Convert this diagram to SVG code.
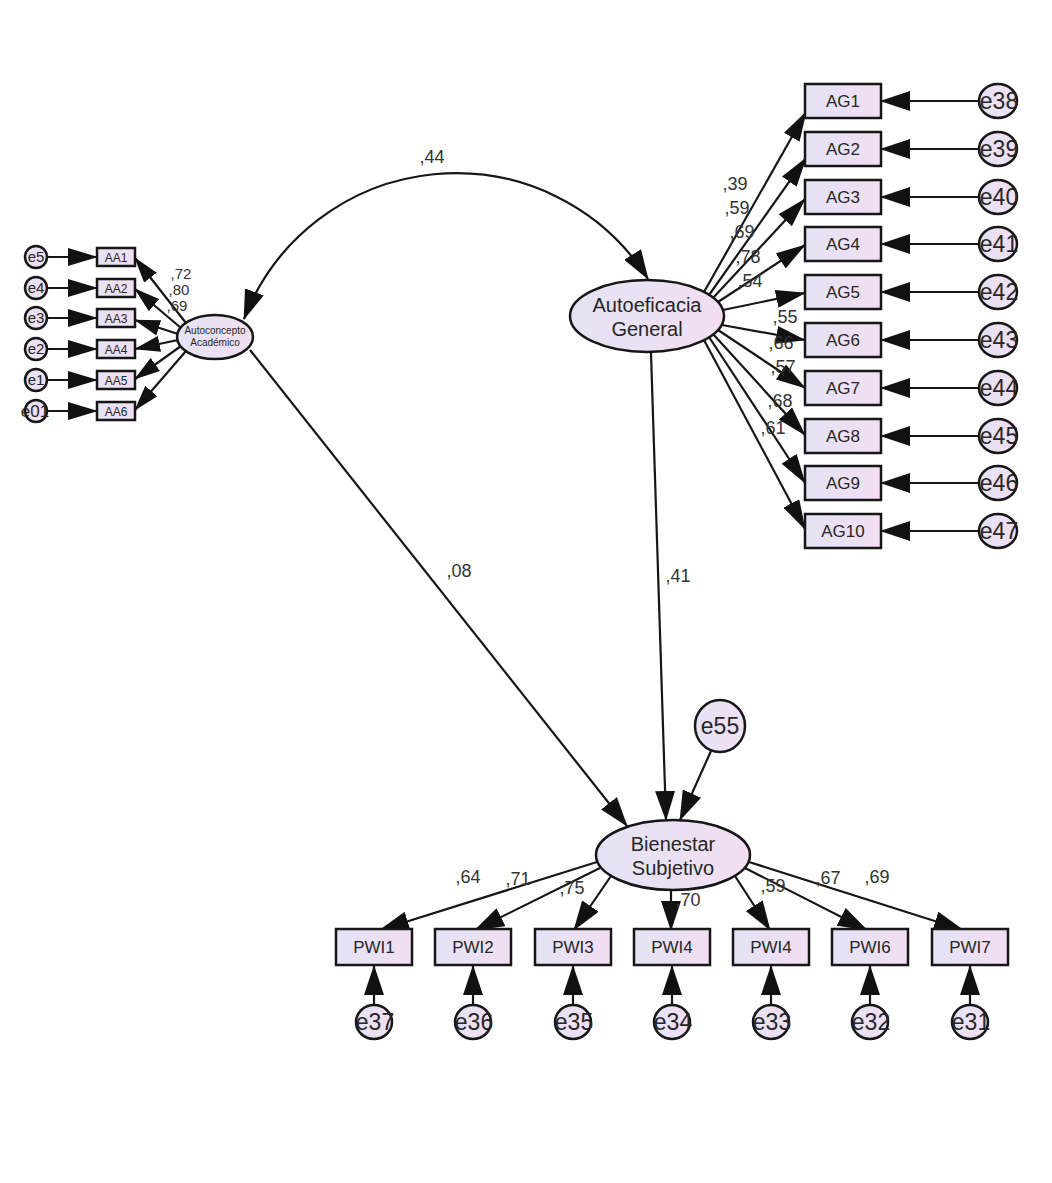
<svg xmlns="http://www.w3.org/2000/svg" width="1052" height="1183" viewBox="0 0 1052 1183">
<defs>
<linearGradient id="g" x1="0" y1="0" x2="1" y2="0">
<stop offset="0" stop-color="#e4e3f5"/>
<stop offset="1" stop-color="#f2def2"/>
</linearGradient>
<marker id="ah" markerUnits="userSpaceOnUse" markerWidth="30" markerHeight="20" viewBox="0 0 30 20" refX="29" refY="10" orient="auto-start-reverse">
<path d="M0,0 L30,10 L0,20 z" fill="#111"/>
</marker>
<marker id="am" markerUnits="userSpaceOnUse" markerWidth="30" markerHeight="18" viewBox="0 0 30 18" refX="29" refY="9" orient="auto">
<path d="M0,0 L30,9 L0,18 z" fill="#111"/>
</marker>
<marker id="as" markerUnits="userSpaceOnUse" markerWidth="26" markerHeight="16" viewBox="0 0 26 16" refX="25" refY="8" orient="auto">
<path d="M0,0 L26,8 L0,16 z" fill="#111"/>
</marker>
<style>
.n{fill:url(#g);stroke:#161616;stroke-width:2.5}
.t{font-family:"Liberation Sans",Arial,sans-serif;fill:#262626;text-anchor:middle}
.c{stroke:#161616;stroke-width:2.2;fill:none}
.lb{font-family:"Liberation Sans",Arial,sans-serif;fill:#333;font-size:18px;text-anchor:middle}
.ls{font-family:"Liberation Sans",Arial,sans-serif;fill:#333;font-size:15px;text-anchor:middle}
</style>
</defs>
<rect width="1052" height="1183" fill="#ffffff"/>

<g id="connectors">
<path class="c" d="M244,319 A227,227 0 0 1 648,279" marker-start="url(#ah)" marker-end="url(#ah)"/>
<line class="c" x1="250" y1="350" x2="627" y2="826" marker-end="url(#ah)"/>
<line class="c" x1="651" y1="353" x2="666" y2="820" marker-end="url(#ah)"/>
<line class="c" x1="711" y1="751" x2="680" y2="820" marker-end="url(#ah)"/>
<line class="c" x1="704" y1="292" x2="806" y2="112" marker-end="url(#am)"/>
<line class="c" x1="709" y1="295" x2="806" y2="158" marker-end="url(#am)"/>
<line class="c" x1="713" y1="298" x2="805" y2="199" marker-end="url(#am)"/>
<line class="c" x1="718" y1="302" x2="805" y2="245" marker-end="url(#am)"/>
<line class="c" x1="723" y1="310" x2="805" y2="293" marker-end="url(#am)"/>
<line class="c" x1="722" y1="325" x2="805" y2="340" marker-end="url(#am)"/>
<line class="c" x1="718" y1="330" x2="805" y2="388" marker-end="url(#am)"/>
<line class="c" x1="713" y1="334" x2="805" y2="435" marker-end="url(#am)"/>
<line class="c" x1="709" y1="337" x2="805" y2="483" marker-end="url(#am)"/>
<line class="c" x1="704" y1="340" x2="805" y2="529" marker-end="url(#am)"/>
<line class="c" x1="979" y1="101" x2="881" y2="101" marker-end="url(#ah)"/>
<line class="c" x1="979" y1="149" x2="881" y2="149" marker-end="url(#ah)"/>
<line class="c" x1="979" y1="197" x2="881" y2="197" marker-end="url(#ah)"/>
<line class="c" x1="979" y1="244" x2="881" y2="244" marker-end="url(#ah)"/>
<line class="c" x1="979" y1="292" x2="881" y2="292" marker-end="url(#ah)"/>
<line class="c" x1="979" y1="340" x2="881" y2="340" marker-end="url(#ah)"/>
<line class="c" x1="979" y1="388" x2="881" y2="388" marker-end="url(#ah)"/>
<line class="c" x1="979" y1="436" x2="881" y2="436" marker-end="url(#ah)"/>
<line class="c" x1="979" y1="483" x2="881" y2="483" marker-end="url(#ah)"/>
<line class="c" x1="979" y1="531" x2="881" y2="531" marker-end="url(#ah)"/>
<line class="c" x1="186" y1="323" x2="135" y2="258" marker-end="url(#as)"/>
<line class="c" x1="181" y1="328" x2="135" y2="289" marker-end="url(#as)"/>
<line class="c" x1="178" y1="334" x2="135" y2="320" marker-end="url(#as)"/>
<line class="c" x1="178" y1="340" x2="135" y2="349" marker-end="url(#as)"/>
<line class="c" x1="181" y1="346" x2="135" y2="379" marker-end="url(#as)"/>
<line class="c" x1="186" y1="351" x2="135" y2="410" marker-end="url(#as)"/>
<line class="c" x1="47" y1="257" x2="97" y2="257" marker-end="url(#am)"/>
<line class="c" x1="47" y1="288" x2="97" y2="288" marker-end="url(#am)"/>
<line class="c" x1="47" y1="318" x2="97" y2="318" marker-end="url(#am)"/>
<line class="c" x1="47" y1="349" x2="97" y2="349" marker-end="url(#am)"/>
<line class="c" x1="47" y1="380" x2="97" y2="380" marker-end="url(#am)"/>
<line class="c" x1="47" y1="411" x2="97" y2="411" marker-end="url(#am)"/>
<line class="c" x1="597" y1="862" x2="380" y2="930" marker-end="url(#ah)"/>
<line class="c" x1="600" y1="868" x2="475" y2="930" marker-end="url(#ah)"/>
<line class="c" x1="611" y1="876" x2="574" y2="930" marker-end="url(#ah)"/>
<line class="c" x1="671" y1="890" x2="671" y2="930" marker-end="url(#ah)"/>
<line class="c" x1="735" y1="876" x2="770" y2="930" marker-end="url(#ah)"/>
<line class="c" x1="745" y1="868" x2="867" y2="930" marker-end="url(#ah)"/>
<line class="c" x1="749" y1="862" x2="963" y2="930" marker-end="url(#ah)"/>
<line class="c" x1="374" y1="1005" x2="374" y2="966" marker-end="url(#ah)"/>
<line class="c" x1="473" y1="1005" x2="473" y2="966" marker-end="url(#ah)"/>
<line class="c" x1="573" y1="1005" x2="573" y2="966" marker-end="url(#ah)"/>
<line class="c" x1="672" y1="1005" x2="672" y2="966" marker-end="url(#ah)"/>
<line class="c" x1="771" y1="1005" x2="771" y2="966" marker-end="url(#ah)"/>
<line class="c" x1="870" y1="1005" x2="870" y2="966" marker-end="url(#ah)"/>
<line class="c" x1="970" y1="1005" x2="970" y2="966" marker-end="url(#ah)"/>
</g>

<g id="labels">
<text class="lb" x="432" y="163">,44</text>
<text class="lb" x="459" y="577">,08</text>
<text class="lb" x="678" y="582">,41</text>
<text class="lb" x="735" y="190">,39</text>
<text class="lb" x="737" y="214">,59</text>
<text class="lb" x="742" y="238">,69</text>
<text class="lb" x="748" y="263">,78</text>
<text class="lb" x="750" y="287">,54</text>
<text class="lb" x="785" y="323">,55</text>
<text class="lb" x="781" y="349">,66</text>
<text class="lb" x="783" y="373">,57</text>
<text class="lb" x="780" y="407">,68</text>
<text class="lb" x="773" y="434">,61</text>
<text class="ls" x="181" y="279">,72</text>
<text class="ls" x="179" y="295">,80</text>
<text class="ls" x="177" y="311">,69</text>
<text class="lb" x="468" y="883">,64</text>
<text class="lb" x="518" y="885">,71</text>
<text class="lb" x="572" y="894">,75</text>
<text class="lb" x="688" y="906">,70</text>
<text class="lb" x="773" y="892">,59</text>
<text class="lb" x="828" y="884">,67</text>
<text class="lb" x="877" y="883">,69</text>
</g>

<g id="autoconcepto">
<ellipse class="n" cx="215" cy="337" rx="38" ry="22"/>
<text class="t" x="215" y="334" font-size="10">Autoconcepto</text>
<text class="t" x="215" y="346" font-size="10">Académico</text>
</g>
<g id="autoeficacia">
<ellipse class="n" cx="647" cy="316" rx="77" ry="36"/>
<text class="t" x="647" y="312" font-size="20">Autoeficacia</text>
<text class="t" x="647" y="336" font-size="20">General</text>
</g>
<g id="bienestar">
<ellipse class="n" cx="673" cy="855" rx="77" ry="35"/>
<text class="t" x="673" y="851" font-size="20">Bienestar</text>
<text class="t" x="673" y="875" font-size="20">Subjetivo</text>
</g>
<g id="e55">
<ellipse class="n" cx="720" cy="726" rx="25" ry="26"/>
<text class="t" x="720" y="734" font-size="23">e55</text>
</g>

<g id="AA1"><rect class="n" x="97" y="248" width="38" height="18"/><text class="t" x="116" y="262" font-size="12">AA1</text></g>
<g id="AA2"><rect class="n" x="97" y="279" width="38" height="18"/><text class="t" x="116" y="293" font-size="12">AA2</text></g>
<g id="AA3"><rect class="n" x="97" y="309" width="38" height="18"/><text class="t" x="116" y="323" font-size="12">AA3</text></g>
<g id="AA4"><rect class="n" x="97" y="340" width="38" height="18"/><text class="t" x="116" y="354" font-size="12">AA4</text></g>
<g id="AA5"><rect class="n" x="97" y="371" width="38" height="18"/><text class="t" x="116" y="385" font-size="12">AA5</text></g>
<g id="AA6"><rect class="n" x="97" y="402" width="38" height="18"/><text class="t" x="116" y="416" font-size="12">AA6</text></g>

<g id="e5"><circle class="n" cx="36" cy="257" r="11"/><text class="t" x="36" y="262" font-size="15">e5</text></g>
<g id="e4"><circle class="n" cx="36" cy="288" r="11"/><text class="t" x="36" y="293" font-size="15">e4</text></g>
<g id="e3"><circle class="n" cx="36" cy="318" r="11"/><text class="t" x="36" y="323" font-size="15">e3</text></g>
<g id="e2"><circle class="n" cx="36" cy="349" r="11"/><text class="t" x="36" y="354" font-size="15">e2</text></g>
<g id="e1"><circle class="n" cx="36" cy="380" r="11"/><text class="t" x="36" y="385" font-size="15">e1</text></g>
<g id="e01"><circle class="n" cx="36" cy="411" r="11"/><text class="t" x="35" y="417" font-size="17">e01</text></g>

<g id="AG1"><rect class="n" x="805" y="84" width="76" height="34"/><text class="t" x="843" y="107" font-size="17">AG1</text></g>
<g id="AG2"><rect class="n" x="805" y="132" width="76" height="34"/><text class="t" x="843" y="155" font-size="17">AG2</text></g>
<g id="AG3"><rect class="n" x="805" y="180" width="76" height="34"/><text class="t" x="843" y="203" font-size="17">AG3</text></g>
<g id="AG4"><rect class="n" x="805" y="227" width="76" height="34"/><text class="t" x="843" y="250" font-size="17">AG4</text></g>
<g id="AG5"><rect class="n" x="805" y="275" width="76" height="34"/><text class="t" x="843" y="298" font-size="17">AG5</text></g>
<g id="AG6"><rect class="n" x="805" y="323" width="76" height="34"/><text class="t" x="843" y="346" font-size="17">AG6</text></g>
<g id="AG7"><rect class="n" x="805" y="371" width="76" height="34"/><text class="t" x="843" y="394" font-size="17">AG7</text></g>
<g id="AG8"><rect class="n" x="805" y="419" width="76" height="34"/><text class="t" x="843" y="442" font-size="17">AG8</text></g>
<g id="AG9"><rect class="n" x="805" y="466" width="76" height="34"/><text class="t" x="843" y="489" font-size="17">AG9</text></g>
<g id="AG10"><rect class="n" x="805" y="514" width="76" height="34"/><text class="t" x="843" y="537" font-size="17">AG10</text></g>

<g id="e38"><ellipse class="n" cx="998" cy="101" rx="19" ry="17"/><text class="t" x="999" y="109" font-size="23">e38</text></g>
<g id="e39"><ellipse class="n" cx="998" cy="149" rx="19" ry="17"/><text class="t" x="999" y="157" font-size="23">e39</text></g>
<g id="e40"><ellipse class="n" cx="998" cy="197" rx="19" ry="17"/><text class="t" x="999" y="205" font-size="23">e40</text></g>
<g id="e41"><ellipse class="n" cx="998" cy="244" rx="19" ry="17"/><text class="t" x="999" y="252" font-size="23">e41</text></g>
<g id="e42"><ellipse class="n" cx="998" cy="292" rx="19" ry="17"/><text class="t" x="999" y="300" font-size="23">e42</text></g>
<g id="e43"><ellipse class="n" cx="998" cy="340" rx="19" ry="17"/><text class="t" x="999" y="348" font-size="23">e43</text></g>
<g id="e44"><ellipse class="n" cx="998" cy="388" rx="19" ry="17"/><text class="t" x="999" y="396" font-size="23">e44</text></g>
<g id="e45"><ellipse class="n" cx="998" cy="436" rx="19" ry="17"/><text class="t" x="999" y="444" font-size="23">e45</text></g>
<g id="e46"><ellipse class="n" cx="998" cy="483" rx="19" ry="17"/><text class="t" x="999" y="491" font-size="23">e46</text></g>
<g id="e47"><ellipse class="n" cx="998" cy="531" rx="19" ry="17"/><text class="t" x="999" y="539" font-size="23">e47</text></g>

<g id="PWI1"><rect class="n" x="336" y="929" width="76" height="36"/><text class="t" x="374" y="953" font-size="17">PWI1</text></g>
<g id="PWI2"><rect class="n" x="435" y="929" width="76" height="36"/><text class="t" x="473" y="953" font-size="17">PWI2</text></g>
<g id="PWI3"><rect class="n" x="535" y="929" width="76" height="36"/><text class="t" x="573" y="953" font-size="17">PWI3</text></g>
<g id="PWI4a"><rect class="n" x="634" y="929" width="76" height="36"/><text class="t" x="672" y="953" font-size="17">PWI4</text></g>
<g id="PWI4b"><rect class="n" x="733" y="929" width="76" height="36"/><text class="t" x="771" y="953" font-size="17">PWI4</text></g>
<g id="PWI6"><rect class="n" x="832" y="929" width="76" height="36"/><text class="t" x="870" y="953" font-size="17">PWI6</text></g>
<g id="PWI7"><rect class="n" x="932" y="929" width="76" height="36"/><text class="t" x="970" y="953" font-size="17">PWI7</text></g>

<g id="e37"><ellipse class="n" cx="374" cy="1022" rx="18" ry="17"/><text class="t" x="375" y="1030" font-size="23">e37</text></g>
<g id="e36"><ellipse class="n" cx="473" cy="1022" rx="18" ry="17"/><text class="t" x="474" y="1030" font-size="23">e36</text></g>
<g id="e35"><ellipse class="n" cx="573" cy="1022" rx="18" ry="17"/><text class="t" x="574" y="1030" font-size="23">e35</text></g>
<g id="e34"><ellipse class="n" cx="672" cy="1022" rx="18" ry="17"/><text class="t" x="673" y="1030" font-size="23">e34</text></g>
<g id="e33"><ellipse class="n" cx="771" cy="1022" rx="18" ry="17"/><text class="t" x="772" y="1030" font-size="23">e33</text></g>
<g id="e32"><ellipse class="n" cx="870" cy="1022" rx="18" ry="17"/><text class="t" x="871" y="1030" font-size="23">e32</text></g>
<g id="e31"><ellipse class="n" cx="970" cy="1022" rx="18" ry="17"/><text class="t" x="971" y="1030" font-size="23">e31</text></g>
</svg>
